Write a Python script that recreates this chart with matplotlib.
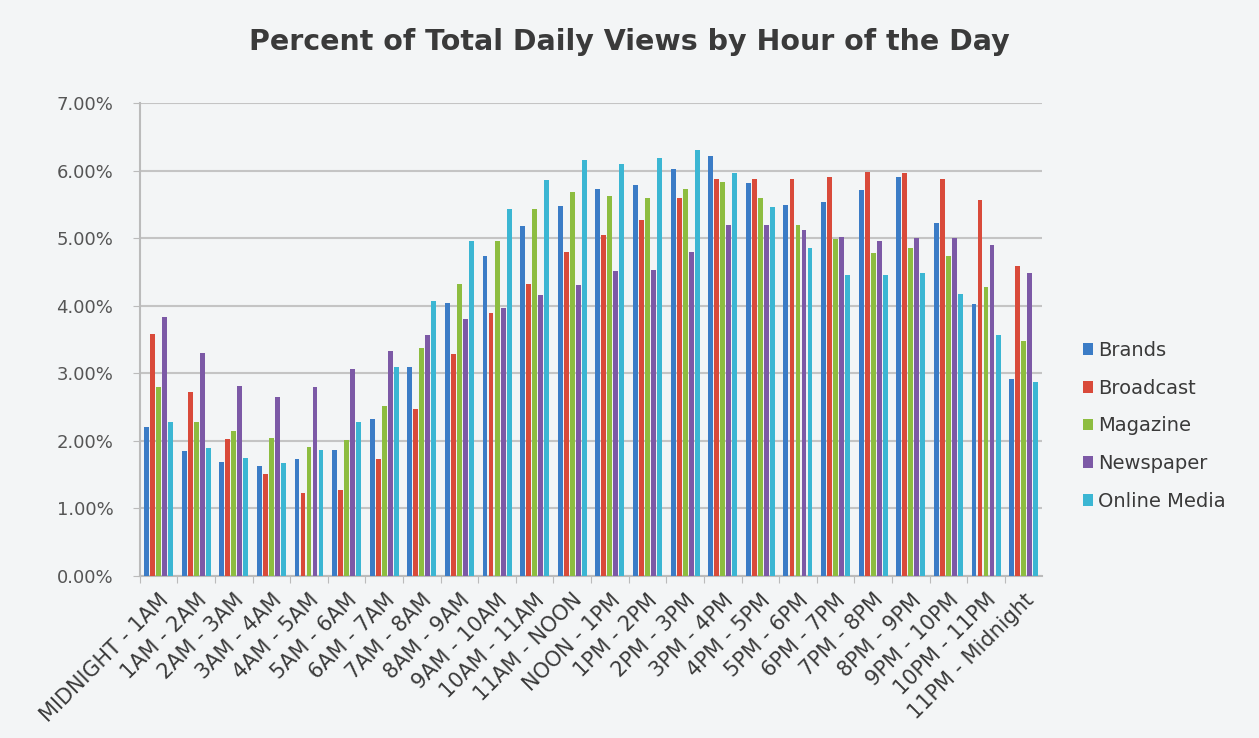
import numpy as np
import matplotlib.pyplot as plt

# hour buckets
hours = ['MIDNIGHT - 1AM', '1AM - 2AM', '2AM - 3AM', '3AM - 4AM', '4AM - 5AM',
         '5AM - 6AM', '6AM - 7AM', '7AM - 8AM', '8AM - 9AM', '9AM - 10AM',
         '10AM - 11AM', '11AM - NOON', 'NOON - 1PM', '1PM - 2PM', '2PM - 3PM',
         '3PM - 4PM', '4PM - 5PM', '5PM - 6PM', '6PM - 7PM', '7PM - 8PM',
         '8PM - 9PM', '9PM - 10PM', '10PM - 11PM', '11PM - Midnight']

# percent of daily views
brands = [2.21, 1.85, 1.68, 1.63, 1.73, 1.86, 2.33, 3.10, 4.04, 4.74, 5.18, 5.48,
          5.72, 5.79, 6.03, 6.21, 5.82, 5.49, 5.53, 5.71, 5.90, 5.22, 4.03, 2.91]
broadcast = [3.58, 2.73, 2.02, 1.51, 1.23, 1.27, 1.73, 2.47, 3.28, 3.89, 4.32, 4.79,
             5.05, 5.27, 5.60, 5.87, 5.88, 5.87, 5.91, 5.98, 5.97, 5.87, 5.56, 4.59]
magazine = [2.80, 2.28, 2.15, 2.04, 1.91, 2.01, 2.51, 3.37, 4.32, 4.96, 5.43, 5.68,
            5.63, 5.60, 5.73, 5.83, 5.60, 5.19, 4.98, 4.78, 4.86, 4.73, 4.27, 3.48]
newspaper = [3.83, 3.30, 2.81, 2.65, 2.79, 3.07, 3.33, 3.56, 3.80, 3.97, 4.16, 4.31,
             4.52, 4.53, 4.80, 5.19, 5.19, 5.12, 5.02, 4.95, 5.00, 5.00, 4.90, 4.49]
online = [2.28, 1.89, 1.75, 1.67, 1.86, 2.28, 3.10, 4.07, 4.96, 5.43, 5.86, 6.16,
          6.10, 6.18, 6.30, 5.97, 5.46, 4.86, 4.45, 4.45, 4.48, 4.18, 3.57, 2.87]

series = [('Brands', brands, '#3b7cc6'),
          ('Broadcast', broadcast, '#d94a3a'),
          ('Magazine', magazine, '#8dbd40'),
          ('Newspaper', newspaper, '#7c59a6'),
          ('Online Media', online, '#3bb6d3')]

bg = '#f3f5f6'
txt = '#3a3a3a'
tick_txt = '#555555'

fig = plt.figure(figsize=(12.59, 7.38), dpi=100, facecolor=bg)
ax = fig.add_axes([0.111, 0.2195, 0.717, 0.641], facecolor=bg)

x = np.arange(len(hours))
step = 0.16
width = 0.13
for i, (name, vals, col) in enumerate(series):
    ax.bar(x + (i - 2) * step, vals, width, color=col, label=name, zorder=3)

ax.set_xlim(-0.5, len(hours) - 0.5)
ax.set_ylim(0, 7)
ax.set_yticks(np.arange(0, 8, 1))
ax.set_yticklabels(['%.2f%%' % v for v in np.arange(0, 8, 1)])
ax.yaxis.grid(True, color='#c4c4c4', linewidth=1.5, zorder=0)

# ticks sit between the groups, labels under the groups
ax.set_xticks(x - 0.5, minor=False)
ax.set_xticklabels([])
ax.set_xticks(x, minor=True)
ax.set_xticklabels(hours, minor=True, rotation=45, ha='right',
                   rotation_mode='anchor', fontsize=15, color=txt)
ax.tick_params(axis='x', which='minor', length=0, pad=10)
ax.tick_params(axis='x', which='major', length=5, color='#bbbbbb')
ax.tick_params(axis='y', length=5, color='#bbbbbb', labelsize=13, labelcolor=tick_txt, pad=14)

for s in ['top', 'right']:
    ax.spines[s].set_visible(False)
for s in ['left', 'bottom']:
    ax.spines[s].set_color('#bbbbbb')
    ax.spines[s].set_linewidth(1.5)

fig.text(0.5, 0.943, 'Percent of Total Daily Views by Hour of the Day',
         ha='center', va='center', fontsize=20.5, fontweight='bold', color=txt)

ax.legend(loc='center left', bbox_to_anchor=(0.846, 0.423), bbox_transform=fig.transFigure,
          frameon=False, fontsize=14, handlelength=0.55, handleheight=0.55,
          handletextpad=0.25, labelspacing=0.96, labelcolor=txt)

fig.savefig('out.png', dpi=100, facecolor=bg)
